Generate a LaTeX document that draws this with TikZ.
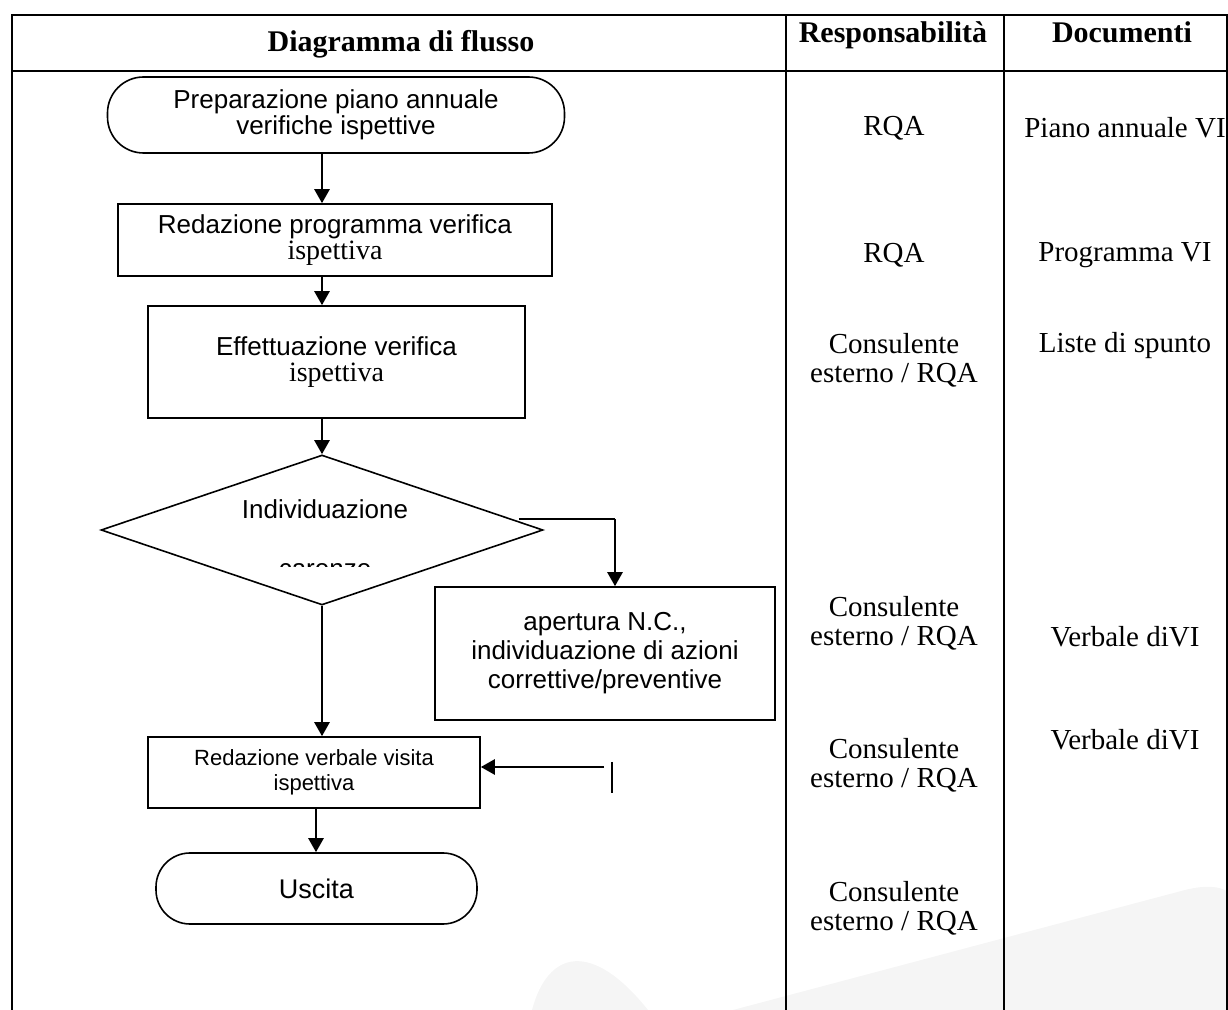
\documentclass[tikz,border=0pt]{standalone}
\usepackage{fontspec}
\setmainfont{Liberation Serif}
\setsansfont{Liberation Sans}
\usetikzlibrary{arrows.meta}
\usetikzlibrary{shapes.geometric}
\usetikzlibrary{calc}

\begin{document}
\begin{tikzpicture}[x=0.5pt, y=-0.5pt]
	\tikzstyle{procStyle}=[draw, line width=0.8pt, inner sep=0pt, align=center, font=\sffamily\fontsize{13}{13}\selectfont]
	\tikzstyle{termStyle}=[procStyle, rounded corners=18pt]
	\tikzstyle{decisionStyle}=[draw, line width=0.8pt, diamond, inner sep=0pt]
	\tikzstyle{flowStyle}=[line width=1.3pt, -{Triangle[length=7pt, width=7.5pt]}]
	\tikzstyle{plainStyle}=[line width=1.1pt]
	\tikzstyle{gridStyle}=[line width=1.3pt]
	\tikzstyle{headStyle}=[font=\bfseries\fontsize{15}{17}\selectfont, anchor=base]
	\tikzstyle{cellStyle}=[align=center, font=\fontsize{14.5}{14.5}\selectfont]
	\newcommand{\isp}{{\rmfamily\fontsize{14}{14}\selectfont ispettiva}}
	\useasboundingbox (0,0) rectangle (1228,1010);
	% watermark in the background
	\fill[black!4] (532,1010) .. controls (548,950) and (592,940) .. (648,1010) -- cycle;
	\fill[black!4] (733,1010) -- (1185,890) .. controls (1205,885) and (1220,886) .. (1228,892) -- (1228,1010) -- cycle;
	% table
	\draw[gridStyle] (12,1010) -- (12,15) -- (1227,15) -- (1227,1010);
	\draw[gridStyle] (12,71) -- (1227,71);
	\draw[gridStyle] (786,15) -- (786,1010);
	\draw[gridStyle] (1004,15) -- (1004,1010);
	\node[headStyle] (hFlow) at (401,52) {Diagramma di flusso};
	\node[headStyle] (hResp) at (893,43) {Responsabilità};
	\node[headStyle] (hDoc) at (1122,43) {Documenti};
	% flow chart
	\node[termStyle, minimum width=228.5pt, minimum height=38pt] (prep) at (336,115) {Preparazione piano annuale\\verifiche ispettive};
	\node[procStyle, minimum width=217pt, minimum height=36pt] (prog) at (335,240) {Redazione programma verifica\\\isp};
	\node[procStyle, minimum width=188.5pt, minimum height=56pt] (eff) at (336.5,362) {Effettuazione verifica\\\isp};
	\node[decisionStyle, minimum width=221pt, minimum height=75pt] (ind) at (322,530) {};
	\node[font=\sffamily\fontsize{13}{13}\selectfont, anchor=base] (indText) at (325,519) {Individuazione};
	\begin{scope}
		\clip (260,540) rectangle (390,567);
		\node[font=\sffamily\fontsize{13}{13}\selectfont, anchor=base] (carText) at (325,578) {carenze};
	\end{scope}
	\node[procStyle, font=\sffamily\fontsize{13}{14.5}\selectfont, minimum width=170pt, minimum height=66.5pt] (nc) at (605,653.5) {apertura N.C.,\\individuazione di azioni\\correttive/preventive};
	\node[procStyle, font=\sffamily\fontsize{11}{12.5}\selectfont, minimum width=166pt, minimum height=35.5pt] (verb) at (314,772.5) {Redazione verbale visita\\ispettiva};
	\node[termStyle, rounded corners=17pt, font=\sffamily\fontsize{13.5}{13.5}\selectfont, minimum width=160.5pt, minimum height=35.5pt] (exit) at (316.5,888.5) {Uscita};
	\coordinate (ncTurn) at (615,519);
	\coordinate (back) at (604,767);
	\coordinate (tickTop) at (612,762);
	\coordinate (tickBot) at (612,793);
	\draw[flowStyle] (prep.south -| ind.north) -- (prog.north -| ind.north);
	\draw[flowStyle] (prog.south -| ind.north) -- (eff.north -| ind.north);
	\draw[flowStyle] (eff.south -| ind.north) -- (ind.north);
	\draw[flowStyle] (ind.south) -- (verb.north -| ind.south);
	\draw[plainStyle] ($(ind.east)+(-25,-11)$) -- (ncTurn);
	\draw[flowStyle] (ncTurn) -- (ncTurn |- nc.north);
	\draw[flowStyle] (back) -- (back -| verb.east);
	\draw[plainStyle] (tickTop) -- (tickBot);
	\draw[flowStyle] ($(verb.south)+(2,0)$) -- ($(verb.south |- exit.north)+(2,0)$);
	% responsibilities
	\node[cellStyle] (r1) at (894,128) {RQA};
	\node[cellStyle] (r2) at (894,255) {RQA};
	\node[cellStyle] (r3) at (894,360) {Consulente\\esterno / RQA};
	\node[cellStyle] (r4) at (894,623) {Consulente\\esterno / RQA};
	\node[cellStyle] (r5) at (894,765) {Consulente\\esterno / RQA};
	\node[cellStyle] (r6) at (894,908) {Consulente\\esterno / RQA};
	% documents
	\node[cellStyle] (d1) at (1125,128) {Piano annuale VI};
	\node[cellStyle] (d2) at (1125,255) {Programma VI};
	\node[cellStyle] (d3) at (1125,346) {Liste di spunto};
	\node[cellStyle] (d4) at (1125,637) {Verbale diVI};
	\node[cellStyle] (d5) at (1125,740) {Verbale diVI};
\end{tikzpicture}
\end{document}
